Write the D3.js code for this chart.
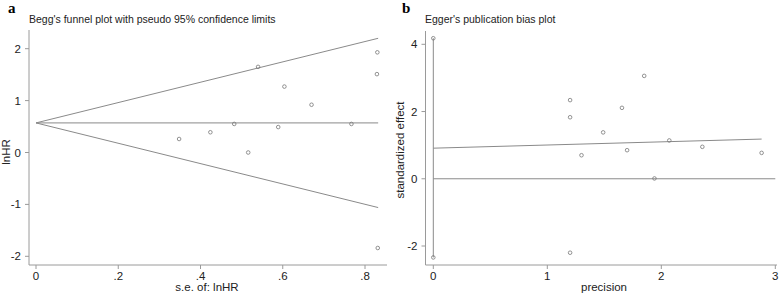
<!DOCTYPE html>
<html>
<head>
<meta charset="utf-8">
<script src="https://cdn.jsdelivr.net/npm/d3@7"></script>
<style>
  body { margin: 0; background: #fff; }
  svg text { font-family: "Liberation Sans", Arial, sans-serif; fill: #222; }
</style>
</head>
<body>
<div id="chart"></div>
<script>
// panel a: Begg's funnel plot
var beggSe  = [0.830, 0.829, 0.540, 0.604, 0.670, 0.767, 0.589, 0.482, 0.424, 0.348, 0.516, 0.831];
var beggLnHR = [1.93, 1.51, 1.65, 1.27, 0.92, 0.55, 0.49, 0.55, 0.39, 0.26, 0.00, -1.84];
var beggPooled = 0.57;
var beggSeMax = 0.832;
var beggXTicks = [0, 0.2, 0.4, 0.6, 0.8];
var beggXLabels = ['0', '.2', '.4', '.6', '.8'];
var beggYTicks = [-2, -1, 0, 1, 2];

// panel b: Egger's plot
var eggerPrecision = [1.20, 1.20, 1.49, 1.655, 1.85, 2.07, 2.36, 1.30, 1.70, 1.94, 2.88, 1.20];
var eggerEffect    = [2.34, 1.83, 1.38, 2.11, 3.06, 1.14, 0.95, 0.70, 0.85, 0.01, 0.77, -2.20];
var eggerIntercept = 0.91;
var eggerSlope = 0.094;
var eggerCI = [-2.34, 4.18];
var eggerXTicks = [0, 1, 2, 3];
var eggerYTicks = [-2, 0, 2, 4];

var width = 784, height = 293;
var lineColor = '#8a8a8a', axisColor = '#9a9a9a';

var svg = d3.select('#chart').append('svg')
    .attr('width', width)
    .attr('height', height);

function drawAxes(x, y, xTicks, xLabels, yTicks, box) {
    // axis lines
    svg.append('line')
        .attr('x1', box.left).attr('x2', box.left)
        .attr('y1', box.top).attr('y2', box.bottom)
        .attr('stroke', axisColor).attr('stroke-width', 1);
    svg.append('line')
        .attr('x1', box.left).attr('x2', box.right)
        .attr('y1', box.bottom).attr('y2', box.bottom)
        .attr('stroke', axisColor).attr('stroke-width', 1);

    var xt = svg.append('g');
    xTicks.forEach(function(t, i) {
        xt.append('line')
            .attr('x1', x(t)).attr('x2', x(t))
            .attr('y1', box.bottom).attr('y2', box.bottom + 4)
            .attr('stroke', axisColor);
        xt.append('text')
            .attr('x', x(t)).attr('y', box.bottom + 15)
            .attr('text-anchor', 'middle')
            .style('font-size', '11.5px')
            .text(xLabels[i]);
    });

    var yt = svg.append('g');
    yTicks.forEach(function(t) {
        yt.append('line')
            .attr('x1', box.left - 4).attr('x2', box.left)
            .attr('y1', y(t)).attr('y2', y(t))
            .attr('stroke', axisColor);
        yt.append('text')
            .attr('x', box.left - 8).attr('y', y(t) + 4)
            .attr('text-anchor', 'end')
            .style('font-size', '11.5px')
            .text(t);
    });
}

// ---- panel a ----
var xa = d3.scaleLinear().domain([0, 0.8]).range([36, 365]);
var ya = d3.scaleLinear().domain([-2, 2]).range([256.3, 48.7]);

drawAxes(xa, ya, beggXTicks, beggXLabels, beggYTicks, { left: 29, right: 387, top: 30, bottom: 265 });

var limits = [0, beggSeMax];
svg.append('path')
    .attr('d', d3.line()(limits.map((s) => [xa(s), ya(beggPooled + 1.96 * s)])))
    .attr('stroke', lineColor).attr('fill', 'none');
svg.append('path')
    .attr('d', d3.line()(limits.map((s) => [xa(s), ya(beggPooled - 1.96 * s)])))
    .attr('stroke', lineColor).attr('fill', 'none');
svg.append('path')
    .attr('d', d3.line()(limits.map((s) => [xa(s), ya(beggPooled)])))
    .attr('stroke', lineColor).attr('fill', 'none');

svg.append('g').selectAll('circle')
    .data(beggSe.map((s, i) => ({ x: s, y: beggLnHR[i] })))
    .enter().append('circle')
    .attr('cx', (d) => xa(d.x))
    .attr('cy', (d) => ya(d.y))
    .attr('r', 1.8)
    .attr('fill', 'none')
    .attr('stroke', '#777')
    .attr('stroke-width', 0.8);

svg.append('text')
    .attr('x', 8).attr('y', 13)
    .style('font-family', '"Liberation Serif", "Times New Roman", serif')
    .style('font-weight', 'bold')
    .style('font-size', '15px')
    .style('fill', '#000')
    .text('a');
svg.append('text')
    .attr('x', 29).attr('y', 23)
    .style('font-size', '10.5px')
    .text("Begg's funnel plot with pseudo 95% confidence limits");
svg.append('text')
    .attr('transform', 'translate(10,152) rotate(-90)')
    .attr('text-anchor', 'middle')
    .style('font-size', '11.5px')
    .text('lnHR');
svg.append('text')
    .attr('x', 207).attr('y', 291)
    .attr('text-anchor', 'middle')
    .style('font-size', '11.5px')
    .text('s.e. of: lnHR');

// ---- panel b ----
var xb = d3.scaleLinear().domain([0, 3]).range([433.3, 775.3]);
var yb = d3.scaleLinear().domain([-2, 4]).range([246, 44.3]);

drawAxes(xb, yb, eggerXTicks, eggerXTicks.map(String), eggerYTicks, { left: 425.5, right: 777, top: 31, bottom: 265 });

// zero line
svg.append('path')
    .attr('d', d3.line()([[xb(0), yb(0)], [xb(3), yb(0)]]))
    .attr('stroke', lineColor).attr('fill', 'none');
// regression line
var pMax = d3.max(eggerPrecision);
svg.append('path')
    .attr('d', d3.line()([0, pMax].map((p) => [xb(p), yb(eggerIntercept + eggerSlope * p)])))
    .attr('stroke', lineColor).attr('fill', 'none');
// intercept CI
svg.append('path')
    .attr('d', d3.line()(eggerCI.map((v) => [xb(0), yb(v)])))
    .attr('stroke', lineColor).attr('fill', 'none');

var eggerPts = eggerPrecision.map((p, i) => ({ x: p, y: eggerEffect[i] }))
    .concat(eggerCI.map((v) => ({ x: 0, y: v })));
svg.append('g').selectAll('circle')
    .data(eggerPts)
    .enter().append('circle')
    .attr('cx', (d) => xb(d.x))
    .attr('cy', (d) => yb(d.y))
    .attr('r', 1.8)
    .attr('fill', 'none')
    .attr('stroke', '#777')
    .attr('stroke-width', 0.8);

svg.append('text')
    .attr('x', 402).attr('y', 13)
    .style('font-family', '"Liberation Serif", "Times New Roman", serif')
    .style('font-weight', 'bold')
    .style('font-size', '15px')
    .style('fill', '#000')
    .text('b');
svg.append('text')
    .attr('x', 425).attr('y', 23)
    .style('font-size', '10.5px')
    .text("Egger's publication bias plot");
svg.append('text')
    .attr('transform', 'translate(404,150) rotate(-90)')
    .attr('text-anchor', 'middle')
    .style('font-size', '11.5px')
    .text('standardized effect');
svg.append('text')
    .attr('x', 604).attr('y', 291)
    .attr('text-anchor', 'middle')
    .style('font-size', '11.5px')
    .text('precision');
</script>
</body>
</html>
